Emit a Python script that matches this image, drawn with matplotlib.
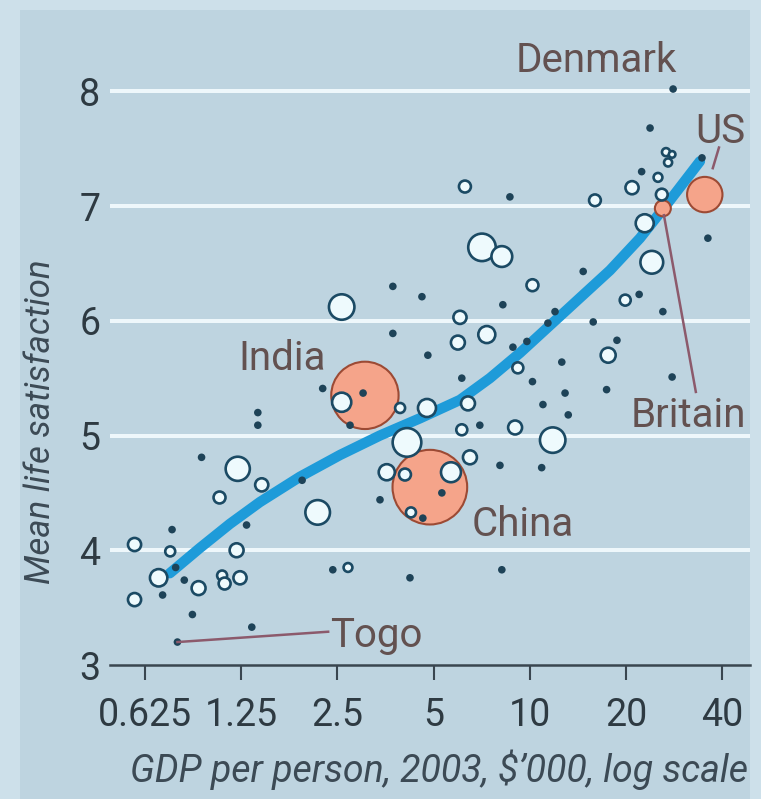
import numpy as np
import matplotlib
matplotlib.use("Agg")
import matplotlib.pyplot as plt
from matplotlib.patches import Rectangle

plt.rcParams["font.family"] = ["Roboto", "DejaVu Sans"]

# GDP per person ($'000, 2003), mean life satisfaction, population (m)
gdp = [28.1, 23.8, 26.7, 27.9, 27.1, 34.6, 22.4, 25.2, 20.9, 16.0,
       25.9, 22.9, 36.1, 24.1, 14.7, 10.2, 6.27, 8.67, 7.09, 8.18,
       3.73, 4.60, 19.9, 22.0, 26.1, 8.24, 6.05, 3.73, 7.34, 5.96,
       4.80, 12.0, 11.4, 9.80, 8.86, 15.8, 17.6, 18.75, 12.6, 27.9,
       17.4, 12.9, 10.2, 9.18, 11.0, 13.2, 9.0, 11.8, 10.9,
       2.58, 2.58, 2.25, 3.01, 2.74, 3.93, 4.77, 6.13, 6.41, 6.13,
       6.98, 4.13, 6.50, 8.07, 3.57, 4.07, 5.67, 4.25, 5.31, 3.40,
       4.63, 2.17, 2.42, 2.70, 4.22, 8.18,
       1.07, 1.45, 1.22, 0.76, 0.58, 0.75, 0.78, 0.69, 0.71, 0.58,
       0.83, 0.92, 0.88, 1.21, 1.09, 1.11, 1.24, 1.30, 1.35, 0.79,
       1.41, 1.41, 0.94, 1.94]
life = [8.02, 7.68, 7.47, 7.45, 7.38, 7.42, 7.30, 7.25, 7.16, 7.05,
        7.10, 6.85, 6.72, 6.51, 6.43, 6.31, 7.17, 7.08, 6.64, 6.56,
        6.30, 6.21, 6.18, 6.23, 6.08, 6.14, 6.03, 5.89, 5.88, 5.81,
        5.70, 6.08, 5.98, 5.82, 5.77, 5.99, 5.70, 5.83, 5.64, 5.51,
        5.40, 5.37, 5.47, 5.59, 5.27, 5.18, 5.07, 4.96, 4.72,
        6.12, 5.29, 5.41, 5.37, 5.09, 5.24, 5.24, 5.50, 5.28, 5.05,
        5.09, 4.94, 4.81, 4.74, 4.68, 4.66, 4.68, 4.33, 4.50, 4.44,
        4.28, 4.33, 3.83, 3.85, 3.76, 3.83,
        4.46, 4.57, 4.71, 4.18, 4.05, 3.99, 3.85, 3.76, 3.61, 3.57,
        3.74, 3.67, 3.44, 4.00, 3.78, 3.71, 3.76, 4.22, 3.33, 3.20,
        5.20, 5.09, 4.81, 4.61]
pop = [5, 5, 15, 10, 15, 5, 5, 18, 40, 32,
       32, 75, 5, 120, 5, 33, 33, 5, 175, 100,
       5, 5, 28, 4, 5, 5, 40, 6, 67, 45,
       5, 5, 5, 5, 5, 5, 52, 5, 5, 5,
       6, 5, 5, 28, 5, 5, 45, 150, 5,
       150, 85, 5, 5, 5, 23, 75, 5, 45, 28,
       5, 190, 45, 5, 60, 33, 92, 23, 5, 5,
       5, 140, 5, 18, 5, 5,
       33, 40, 135, 5, 40, 23, 5, 70, 5, 40,
       5, 45, 6, 45, 23, 33, 40, 5, 5, 5,
       5, 5, 5, 5]

# highlighted countries
hl_names = ["US", "Britain", "India", "China"]
hl_gdp = [35.3, 26.1, 3.05, 4.87]
hl_life = [7.10, 6.98, 5.35, 4.55]
hl_pop = [290, 59, 1050, 1290]

# fitted curve
fit_gdp = [0.748, 0.929, 1.153, 1.431, 1.909, 2.548, 3.399, 4.534, 6.048,
           7.506, 9.32, 11.57, 14.36, 17.83, 22.13, 27.46, 34.09]
fit_life = [3.80, 4.02, 4.23, 4.42, 4.64, 4.83, 5.00, 5.15, 5.31,
            5.50, 5.72, 5.96, 6.20, 6.44, 6.72, 7.05, 7.39]

xticks = [0.625, 1.25, 2.5, 5, 10, 20, 40]
xticklabels = ["0.625", "1.25", "2.5", "5", "10", "20", "40"]
yticks = [3, 4, 5, 6, 7, 8]

W, H = 761, 799
fig = plt.figure(figsize=(W / 100, H / 100), dpi=100)
fig.patch.set_facecolor("#cde0ea")
fig.patches.append(Rectangle((20 / W, 0), 730 / W, 789 / H, transform=fig.transFigure,
                             facecolor="#bed4e0", edgecolor="none", zorder=0))

ax = fig.add_axes([110 / W, 134 / H, 640 / W, 654 / H])
ax.set_zorder(2)
ax.set_facecolor("none")
ax.set_xscale("log")
ax.set_xlim(0.486, 48.9)
ax.set_ylim(3, 8.7)

for y in yticks[1:]:
    ax.axhline(y, color="#eef7fb", lw=2.9, zorder=1)

ax.plot(fit_gdp, fit_life, color="#1e9bd9", lw=7.5, solid_capstyle="round",
        solid_joinstyle="round", zorder=2)

gdp = np.array(gdp)
life = np.array(life)
pop = np.array(pop)
small = pop < 10
big = ~small

ax.scatter(hl_gdp, hl_life, s=np.array(hl_pop) * 2.24, facecolor="#f5a48a",
           edgecolor="#9c4a34", linewidth=1.5, zorder=3)
ax.scatter(gdp[big], life[big], s=pop[big] * 2.24, facecolor="#eefafd",
           edgecolor="#1b4a64", linewidth=1.9, zorder=4)
ax.scatter(gdp[small], life[small], s=30, facecolor="#1e4358", edgecolor="none", zorder=5)

ax.set_xticks(xticks)
ax.set_xticklabels(xticklabels)
ax.xaxis.set_minor_locator(matplotlib.ticker.NullLocator())
ax.set_yticks(yticks)
ax.tick_params(axis="x", direction="out", length=11, width=1.5, color="#3a4650",
               pad=12, labelsize=27, labelcolor="#2e3a42")
ax.tick_params(axis="y", length=0, pad=7, labelsize=27, labelcolor="#2e3a42")
for side in ["top", "right", "left"]:
    ax.spines[side].set_visible(False)
ax.spines["bottom"].set_color("#3a4650")
ax.spines["bottom"].set_linewidth(1.8)

lab = dict(color="#635150", fontsize=29, ha="center", va="baseline", zorder=6)
ax.text(16.2, 8.17, "Denmark", **lab)
ax.text(39.4, 7.55, "US", **lab)
ax.text(1.68, 5.57, "India", **lab)
ax.text(9.5, 4.12, "China", **lab)
ax.text(31.3, 5.07, "Britain", **lab)
ax.text(2.37, 3.16, "Togo", **{**lab, "ha": "left"})

lead = dict(color="#8c5a6c", lw=1.8, zorder=6)
ax.plot([0.79, 2.34], [3.20, 3.29], **lead)
ax.plot([26.3, 33.1], [6.92, 5.38], **lead)
ax.plot([37.4, 39.1], [7.33, 7.51], **lead)

fig.text(40 / W, 1 - 422 / H, "Mean life satisfaction", rotation=90, style="italic",
         fontsize=25, color="#3c4a55", ha="center", va="center")
fig.text(748 / W, 1 - 770 / H, "GDP per person, 2003, $\u2019000, log scale", style="italic",
         fontsize=27, color="#3c4a55", ha="right", va="center")

fig.savefig("out.png", dpi=100, facecolor=fig.get_facecolor())
